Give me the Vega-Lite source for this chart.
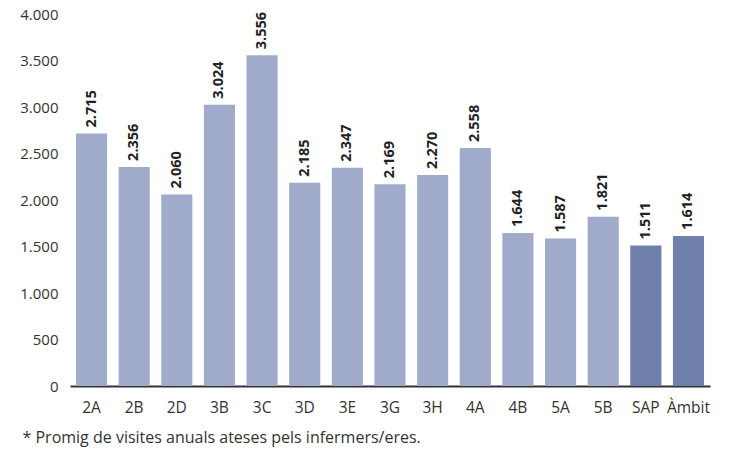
{
  "$schema": "https://vega.github.io/schema/vega-lite/v6.json",
  "width": 640,
  "height": 372,
  "autosize": {"type": "none"},
  "padding": {"left": 70, "top": 14, "right": 21, "bottom": 66},
  "background": "white",
  "config": {
    "locale": {"number": {"decimal": ",", "thousands": ".", "grouping": [3], "currency": ["", " €"]}},
    "view": {"stroke": null},
    "font": "Open Sans"
  },
  "data": {
    "values": [
      {"unitat": "2A", "visites": 2715, "tipus": "unitat"},
      {"unitat": "2B", "visites": 2356, "tipus": "unitat"},
      {"unitat": "2D", "visites": 2060, "tipus": "unitat"},
      {"unitat": "3B", "visites": 3024, "tipus": "unitat"},
      {"unitat": "3C", "visites": 3556, "tipus": "unitat"},
      {"unitat": "3D", "visites": 2185, "tipus": "unitat"},
      {"unitat": "3E", "visites": 2347, "tipus": "unitat"},
      {"unitat": "3G", "visites": 2169, "tipus": "unitat"},
      {"unitat": "3H", "visites": 2270, "tipus": "unitat"},
      {"unitat": "4A", "visites": 2558, "tipus": "unitat"},
      {"unitat": "4B", "visites": 1644, "tipus": "unitat"},
      {"unitat": "5A", "visites": 1587, "tipus": "unitat"},
      {"unitat": "5B", "visites": 1821, "tipus": "unitat"},
      {"unitat": "SAP", "visites": 1511, "tipus": "total"},
      {"unitat": "Àmbit", "visites": 1614, "tipus": "total"}
    ]
  },
  "encoding": {
    "x": {
      "field": "unitat", "type": "nominal", "sort": null,
      "scale": {"paddingInner": 0.27, "paddingOuter": 0.14},
      "axis": {
        "labelAngle": 0, "labelFontSize": 15.5, "labelColor": "#333333",
        "labelPadding": 14, "ticks": false,
        "domainColor": "#333333", "domainWidth": 2,
        "title": "* Promig de visites anuals ateses pels infermers/eres.",
        "titleFontSize": 16, "titleFontWeight": "normal", "titleColor": "#333333",
        "titleAnchor": "start", "titleAlign": "left", "titleX": -48, "titleY": 51, "titleBaseline": "middle"
      }
    },
    "y": {
      "field": "visites", "type": "quantitative",
      "scale": {"domain": [0, 4000]},
      "axis": {
        "values": [0, 500, 1000, 1500, 2000, 2500, 3000, 3500, 4000],
        "format": ",d", "grid": false, "domain": false, "ticks": false,
        "labelPadding": 12, "labelFontSize": 15, "labelColor": "#333333", "title": null
      }
    }
  },
  "layer": [
    {
      "mark": {"type": "bar"},
      "encoding": {
        "color": {
          "field": "tipus", "type": "nominal",
          "scale": {"domain": ["unitat", "total"], "range": ["#a0aacb", "#6f80ad"]},
          "legend": null
        }
      }
    },
    {
      "mark": {"type": "text", "align": "left", "baseline": "middle", "dx": 6, "fontWeight": "bold", "fontSize": 14.5, "color": "#222222"},
      "encoding": {
        "angle": {"value": 270},
        "text": {"field": "visites", "type": "quantitative", "format": ",d"}
      }
    }
  ]
}
